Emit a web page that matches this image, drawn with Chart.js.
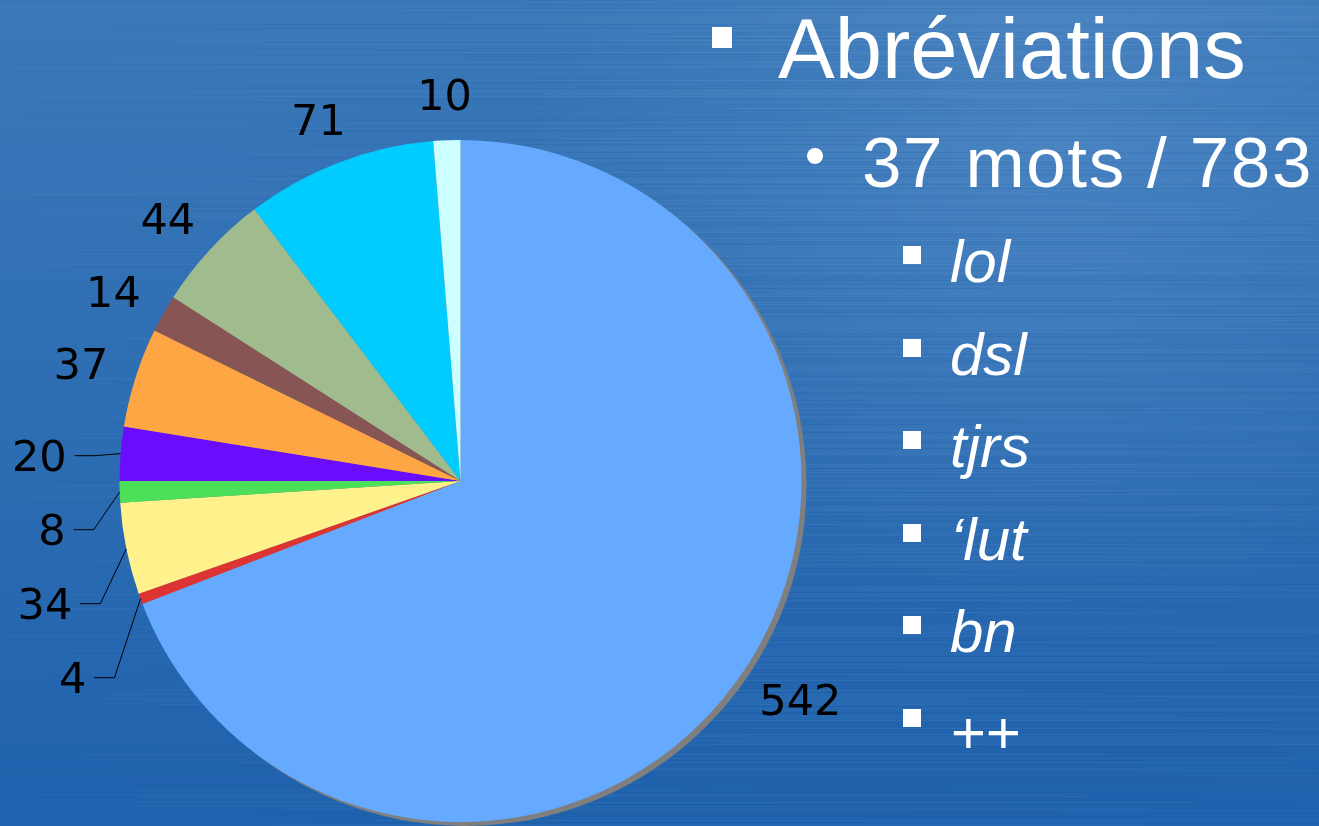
<!DOCTYPE html>
<html lang="fr">
<head>
<meta charset="utf-8">
<title>Abréviations</title>
<script src="https://cdn.jsdelivr.net/npm/chart.js@4.4.0/dist/chart.umd.min.js"></script>
<style>
  html, body { margin: 0; padding: 0; width: 1319px; height: 826px; overflow: hidden; }
  #slide { position: relative; width: 1319px; height: 826px; }
  #pie-chart { position: absolute; left: 0; top: 0; }
  .txt { position: absolute; color: #fff; font-family: "Liberation Sans", Arial, sans-serif; white-space: nowrap; line-height: 1; }
  .sq { position: absolute; background: #fff; }
  .dot { position: absolute; background: #fff; border-radius: 50%; }
</style>
</head>
<body>
<div id="slide">
  <canvas id="pie-chart" width="1319" height="826"></canvas>

  <div class="sq" style="left:712px; top:27px; width:20px; height:21px;"></div>
  <div class="txt" style="left:778px; top:6px; font-size:85px;">Abréviations</div>

  <div class="dot" style="left:807px; top:148px; width:16px; height:16px;"></div>
  <div class="txt" style="left:862px; top:127px; font-size:71px; letter-spacing:1.6px;">37 mots / 783</div>

  <div id="sub-list"></div>
</div>

<script>
// ====== DATA ======
const sliceLabels = ['542', '4', '34', '8', '20', '37', '14', '44', '71', '10'];
const sliceValues = [542, 4, 34, 8, 20, 37, 14, 44, 71, 10];
const sliceColors = ['#66aaff', '#dd3333', '#fff28c', '#4ce05a', '#6a0dff',
                     '#ffa644', '#885555', '#a0bb8e', '#00ccff', '#ccffff'];
const subItems = ['lol', 'dsl', 'tjrs', '‘lut', 'bn', '++'];

// slices whose labels sit in a stacked column with leader lines
const leaderSlices = [4, 3, 2, 1];


// ====== RIGHT SIDE BULLETS ======
const subList = document.getElementById('sub-list');
subItems.forEach((item, i) => {
  const baseline = 283 + i * 92.5;
  const sq = document.createElement('div');
  sq.className = 'sq';
  sq.style.cssText = `left:903px; top:${baseline - 37}px; width:18px; height:18px;`;
  subList.appendChild(sq);

  const t = document.createElement('div');
  t.className = 'txt';
  const extra = item === '++' ? 8 : 0;   // "++" sits a bit lower
  t.style.cssText = `left:950px; top:${baseline - 51 + extra}px; font-size:60px; font-style:italic;`;
  t.textContent = item;
  subList.appendChild(t);
});


// ====== PLUGINS ======
// textured blue slide background
const slideBackground = {
  id: 'slideBackground',
  beforeDraw(chart) {
    const { ctx, width, height } = chart;
    ctx.save();
    const grad = ctx.createLinearGradient(0, 0, 0, height);
    grad.addColorStop(0, '#3a78b8');
    grad.addColorStop(0.5, '#2d6db3');
    grad.addColorStop(1, '#1f62ad');
    ctx.fillStyle = grad;
    ctx.fillRect(0, 0, width, height);

    const glow = ctx.createRadialGradient(1050, 120, 20, 1050, 120, 520);
    glow.addColorStop(0, 'rgba(110,160,215,0.3)');
    glow.addColorStop(1, 'rgba(110,160,215,0)');
    ctx.fillStyle = glow;
    ctx.fillRect(0, 0, width, height);

    // thin horizontal streaks
    for (let y = 0; y < height; y += 2) {
      const n = Math.sin(y * 12.9898) * 43758.5453;
      const f = n - Math.floor(n);
      ctx.fillStyle = f > 0.5 ? 'rgba(255,255,255,0.04)' : 'rgba(0,30,80,0.05)';
      const n2 = Math.sin(y * 78.233) * 12345.678;
      const x0 = (n2 - Math.floor(n2)) * width * 0.6;
      ctx.fillRect(x0, y, width * 0.5 + f * 400, 1);
    }
    ctx.restore();
  }
};

// gray drop shadow behind the pie
const pieShadow = {
  id: 'pieShadow',
  beforeDatasetsDraw(chart) {
    const arc = chart.getDatasetMeta(0).data[0];
    if (!arc) return;
    const { ctx } = chart;
    ctx.save();
    ctx.fillStyle = '#7f7f7f';
    ctx.beginPath();
    ctx.arc(arc.x + 5, arc.y + 4, arc.outerRadius, 0, Math.PI * 2);
    ctx.fill();
    ctx.restore();
  }
};

// value labels outside the slices
const outsideLabels = {
  id: 'outsideLabels',
  afterDatasetsDraw(chart) {
    const { ctx } = chart;
    const arcs = chart.getDatasetMeta(0).data;
    const fontSize = 43;
    const capH = fontSize * 0.73;
    ctx.save();
    ctx.font = `${fontSize}px "DejaVu Sans", sans-serif`;
    ctx.fillStyle = '#000';
    ctx.strokeStyle = '#000';
    ctx.lineWidth = 1;
    ctx.textBaseline = 'alphabetic';

    arcs.forEach((arc, i) => {
      if (leaderSlices.includes(i)) return;
      const mid = (arc.startAngle + arc.endAngle) / 2;
      const c = Math.cos(mid), s = Math.sin(mid);
      const text = sliceLabels[i];
      const w = ctx.measureText(text).width;
      const r = arc.outerRadius + 30;
      const cx = arc.x + c * r + c * w / 2;
      const cy = arc.y + s * r + s * capH / 2;
      ctx.textAlign = 'center';
      ctx.fillText(text, cx, cy + capH / 2);
    });

    let prevY = -Infinity;
    leaderSlices.forEach(i => {
      const arc = arcs[i];
      const mid = (arc.startAngle + arc.endAngle) / 2;
      const px = arc.x + Math.cos(mid) * arc.outerRadius;
      const py = arc.y + Math.sin(mid) * arc.outerRadius;
      const ly = Math.max(py + 2, prevY + 74);
      prevY = ly;
      const ex = px - 26;
      const sx = ex - 20;
      ctx.beginPath();
      ctx.moveTo(sx, ly);
      ctx.lineTo(ex, ly);
      ctx.lineTo(px, py);
      ctx.stroke();
      ctx.textAlign = 'right';
      ctx.fillText(sliceLabels[i], sx - 8, ly + capH / 2);
    });
    ctx.restore();
  }
};


// ====== CHART ======
const ctx = document.getElementById('pie-chart').getContext('2d');
const myChart = new Chart(ctx, {
  type: 'pie',
  data: {
    labels: sliceLabels,
    datasets: [{
      data: sliceValues,
      backgroundColor: sliceColors,
      borderWidth: 0
    }]
  },
  options: {
    responsive: false,
    animation: false,
    layout: { padding: { left: 119.5, right: 517.5, top: 140, bottom: 4 } },
    plugins: {
      legend: { display: false },
      tooltip: { enabled: false }
    }
  },
  plugins: [slideBackground, pieShadow, outsideLabels]
});
</script>
</body>
</html>
